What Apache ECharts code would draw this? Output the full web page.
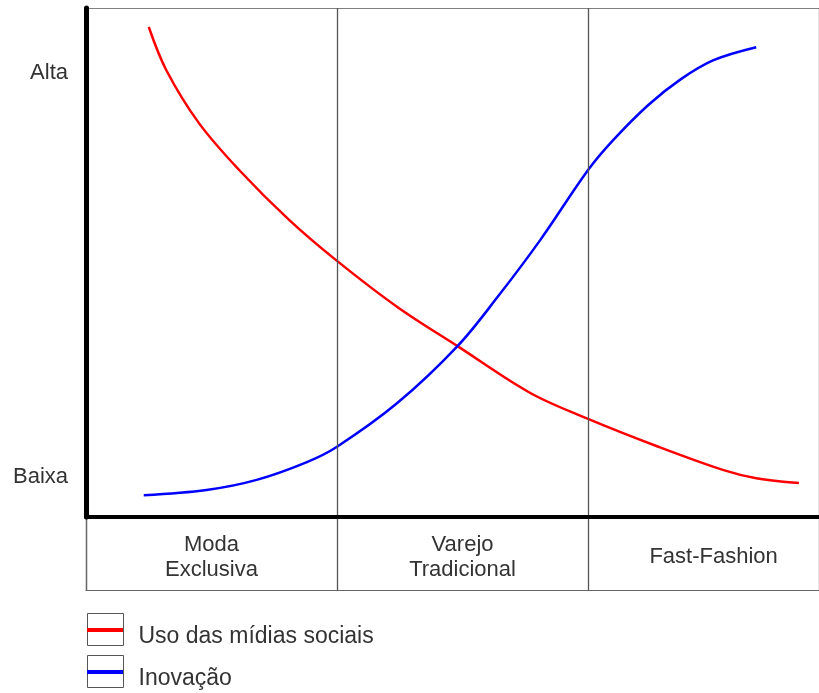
<!DOCTYPE html>
<html>
<head>
<meta charset="utf-8">
<script src="https://cdn.jsdelivr.net/npm/echarts@6/dist/echarts.min.js"></script>
<style>
  html, body { margin: 0; padding: 0; background: #fff; }
  #chart { width: 819px; height: 693px; }
</style>
</head>
<body>
<div id="chart"></div>
<script>
// categories along the bottom table
const categories = ['Moda\nExclusiva', 'Varejo\nTradicional', 'Fast-Fashion']
const categoryCenters = [0.5, 1.5, 2.5]
// y axis: only two named levels
const yTickValues = [0, 100]
const yTickLabels = ['Baixa', 'Alta']
const seriesNames = ['Uso das mídias sociais', 'Inovação']

// x position is measured in category widths (0..3), y on the 0 (Baixa) .. 100 (Alta) scale
const socialX = [0.25, 0.32, 0.45, 0.61, 0.81, 1.0, 1.24, 1.48, 1.77, 2.0, 2.28, 2.54, 2.67, 2.84]
const socialY = [111.3, 100.6, 87.5, 75.9, 63.5, 53.4, 42.0, 32.3, 20.7, 14.3, 7.4, 1.6, -0.4, -1.6]
const innovX = [0.23, 0.48, 0.68, 0.88, 1.0, 1.24, 1.48, 1.64, 1.81, 2.0, 2.1, 2.24, 2.37, 2.5, 2.67]
const innovY = [-4.6, -3.3, -0.8, 3.6, 7.4, 18.2, 32.3, 44.5, 58.6, 75.9, 83.3, 92.0, 98.4, 103.1, 106.3]

const font = 'Liberation Sans, Arial, sans-serif'
const xMax = 2.92 // the third column is cut by the right edge of the picture
const zip = (xs, ys) => xs.map((x, i) => [x, ys[i]])

const chart = echarts.init(document.getElementById('chart'))

const option = {
  animation: false,
  grid: [
    { left: 86, top: 8, right: 0, height: 509 },
    { left: 86, top: 517, right: 0, height: 73 },
  ],
  xAxis: [
    {
      // plot axis: thick bottom line, dividers, category labels in the table
      gridIndex: 0,
      type: 'value',
      min: 0,
      max: xMax,
      interval: 1,
      axisLine: { show: true, onZero: false, lineStyle: { color: '#000', width: 4 } },
      axisTick: { show: false },
      splitLine: { show: true, lineStyle: { color: '#555', width: 1.3 } },
      axisLabel: {
        customValues: categoryCenters,
        formatter: function (v) {
          return categories[Math.floor(v)]
        },
        margin: 40,
        verticalAlign: 'middle',
        fontFamily: font,
        fontSize: 22,
        lineHeight: 25,
        color: '#333',
      },
      z: 5,
    },
    {
      // thin frame line on top of the plot
      gridIndex: 0,
      type: 'value',
      position: 'top',
      min: 0,
      max: xMax,
      axisLine: { show: true, onZero: false, lineStyle: { color: '#808080', width: 1.2 } },
      axisTick: { show: false },
      axisLabel: { show: false },
      splitLine: { show: false },
    },
    {
      // table: bottom border + dividers
      gridIndex: 1,
      type: 'value',
      min: 0,
      max: xMax,
      interval: 1,
      axisLine: { show: true, onZero: false, lineStyle: { color: '#666', width: 1.2 } },
      axisTick: { show: false },
      axisLabel: { show: false },
      splitLine: { show: true, lineStyle: { color: '#555', width: 1.3 } },
    },
  ],
  yAxis: [
    {
      gridIndex: 0,
      type: 'value',
      min: -10,
      max: 116,
      interval: 10,
      axisLine: { show: true, onZero: false, lineStyle: { color: '#000', width: 5 } },
      axisTick: { show: false },
      splitLine: { show: false },
      axisLabel: {
        margin: 18,
        fontFamily: font,
        fontSize: 22,
        color: '#333',
        showMaxLabel: false,
        formatter: function (v) {
          const i = yTickValues.indexOf(v)
          return i >= 0 ? yTickLabels[i] : ''
        },
      },
      z: 5,
    },
    {
      // table: left border
      gridIndex: 1,
      type: 'value',
      min: 0,
      max: 1,
      axisLine: { show: true, onZero: false, lineStyle: { color: '#666', width: 1.2 } },
      axisTick: { show: false },
      axisLabel: { show: false },
      splitLine: { show: false },
    },
  ],
  legend: [
    {
      // boxes + text
      data: seriesNames,
      orient: 'vertical',
      left: 87,
      top: 613,
      padding: 0,
      icon: 'rect',
      itemWidth: 36,
      itemHeight: 32,
      itemGap: 7,
      selectedMode: false,
      itemStyle: { color: '#fff', borderColor: '#555', borderWidth: 1 },
      formatter: function (name) {
        return '{t|' + name + '}'
      },
      textStyle: {
        rich: {
          t: { fontFamily: font, fontSize: 23, color: '#333', padding: [14, 0, 0, 10] },
        },
      },
      z: 2,
    },
    {
      // coloured bar inside each box
      data: seriesNames,
      orient: 'vertical',
      left: 87,
      top: 628,
      padding: 0,
      icon: 'rect',
      itemWidth: 36,
      itemHeight: 4,
      itemGap: 38,
      selectedMode: false,
      itemStyle: { borderWidth: 0 },
      formatter: function () { return '' },
      textStyle: { fontSize: 1, lineHeight: 1 },
      z: 3,
    },
  ],
  series: [
    {
      name: seriesNames[0],
      type: 'line',
      xAxisIndex: 0,
      yAxisIndex: 0,
      smooth: 0.35,
      symbol: 'none',
      data: zip(socialX, socialY),
      itemStyle: { color: '#ff0000' },
      lineStyle: { color: '#ff0000', width: 2.5 },
      z: 3,
    },
    {
      name: seriesNames[1],
      type: 'line',
      xAxisIndex: 0,
      yAxisIndex: 0,
      smooth: 0.35,
      symbol: 'none',
      data: zip(innovX, innovY),
      itemStyle: { color: '#0000ff' },
      lineStyle: { color: '#0000ff', width: 2.5 },
      z: 3,
    },
  ],
}

chart.setOption(option)
</script>
</body>
</html>
